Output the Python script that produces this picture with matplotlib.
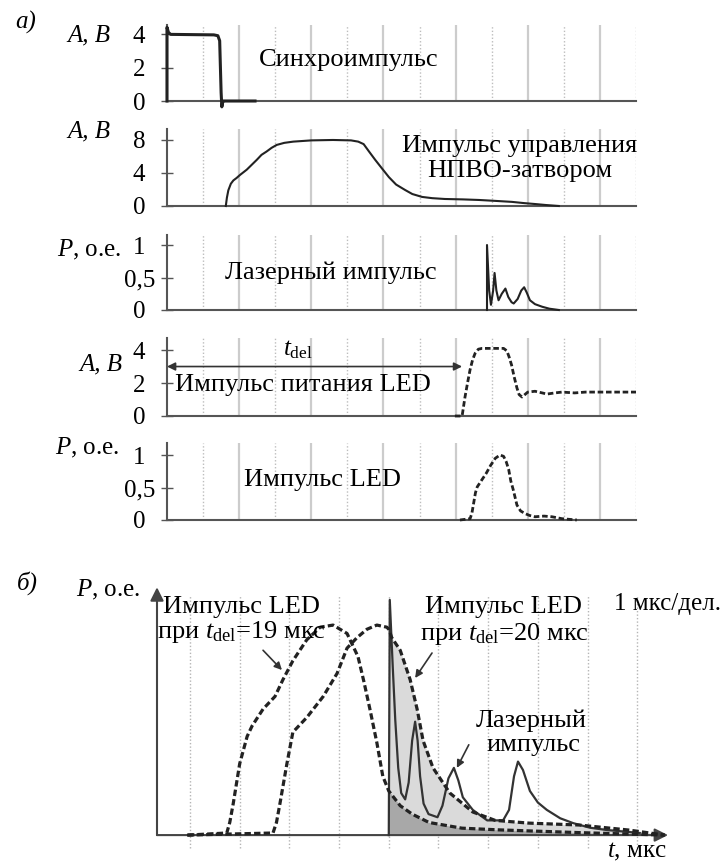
import numpy as np
import matplotlib
matplotlib.use('Agg')
import matplotlib.pyplot as plt

plt.rcParams['font.family'] = ['Liberation Serif', 'DejaVu Serif']
plt.rcParams['mathtext.fontset'] = 'custom'
plt.rcParams['mathtext.rm'] = 'Liberation Serif'
plt.rcParams['mathtext.it'] = 'Liberation Serif:italic'
plt.rcParams['font.size'] = 18

# ---- panel a) data, x in half-divisions ----
sync_x = [0, 0, 0.04, 0.1, 1.3, 1.41, 1.46, 1.5, 1.52, 1.55, 1.6, 2.44]
sync_y = [0, 4.4, 4.1, 3.98, 3.95, 3.9, 3.6, 0.5, -0.35, 0.0, 0.0, 0.0]

gate_x = [1.63, 1.66, 1.7, 1.77, 1.84, 1.93, 2.02, 2.21, 2.35, 2.49, 2.62, 2.76, 2.9, 3.04, 3.25,
          3.5, 4.0, 4.6, 5.1, 5.3, 5.45, 5.6, 5.77, 5.95, 6.15, 6.35, 6.6, 6.8, 7.07, 7.35, 7.7,
          8.2, 8.65, 9.1, 9.56, 9.9, 10.2, 10.5, 10.86]
gate_y = [0, 1.0, 1.9, 2.7, 3.1, 3.4, 3.75, 4.4, 5.0, 5.6, 6.2, 6.6, 7.05, 7.4, 7.65,
          7.8, 7.95, 8.0, 7.95, 7.8, 7.5, 6.6, 5.6, 4.6, 3.5, 2.6, 1.94, 1.45, 1.1, 0.95, 0.85,
          0.8, 0.73, 0.62, 0.5, 0.35, 0.24, 0.12, 0.0]

laser_x = [8.87, 8.87, 8.93, 8.98, 9.04, 9.08, 9.13, 9.19, 9.28, 9.38, 9.46, 9.55, 9.61, 9.72,
           9.82, 9.9, 9.97, 10.06, 10.2, 10.4, 10.6, 10.86]
laser_y = [0, 1.0, 0.3, 0.08, 0.3, 0.57, 0.3, 0.15, 0.25, 0.33, 0.2, 0.12, 0.1, 0.17,
           0.3, 0.35, 0.27, 0.15, 0.09, 0.05, 0.02, 0.0]

drive_x = [7.98, 8.18, 8.26, 8.33, 8.4, 8.47, 8.54, 8.63, 8.73, 9.0, 9.33, 9.42, 9.48, 9.55,
           9.62, 9.7, 9.76, 9.84, 9.92, 10.0, 10.2, 10.4, 10.53, 10.75, 10.95, 11.3, 11.6,
           12.0, 13.0]
drive_y = [0, 0, 1.15, 2.0, 2.8, 3.4, 3.8, 4.05, 4.1, 4.1, 4.1, 3.95, 3.6, 3.1,
           2.4, 1.7, 1.3, 1.15, 1.3, 1.45, 1.5, 1.4, 1.33, 1.4, 1.45, 1.4, 1.45,
           1.45, 1.45]

led_x = [8.12, 8.4, 8.45, 8.5, 8.55, 8.6, 8.73, 8.85, 8.97, 9.1, 9.23, 9.33, 9.4, 9.47, 9.53,
         9.6, 9.7, 9.8, 9.92, 10.05, 10.2, 10.45, 10.67, 10.95, 11.36]
led_y = [0, 0.02, 0.1, 0.26, 0.42, 0.51, 0.62, 0.72, 0.84, 0.95, 1.0, 0.98, 0.9, 0.78, 0.6,
         0.46, 0.23, 0.14, 0.1, 0.07, 0.05, 0.06, 0.05, 0.02, 0.0]

tdel_end = 8.18

# ---- panel б) data, t in microseconds ----
t19 = [0.96, 1.74, 1.8, 1.87, 2.0, 2.15, 2.25, 2.47, 2.71, 2.87, 3.07, 3.35, 3.62, 3.88, 4.16,
       4.38, 4.5, 4.62, 4.76, 4.88, 5.0, 5.23, 5.47, 5.81, 6.47, 7.2, 7.82, 8.8, 9.83, 10.55]
p19 = [0.0, 0.01, 0.06, 0.15, 0.34, 0.47, 0.52, 0.6, 0.66, 0.74, 0.83, 0.93, 0.99, 1.0, 0.96,
       0.85, 0.73, 0.6, 0.44, 0.28, 0.21, 0.14, 0.1, 0.06, 0.033, 0.025, 0.02, 0.012, 0.005, 0.0]

t20 = [0.94, 2.67, 2.74, 2.81, 2.95, 3.07, 3.35, 3.68, 3.96, 4.16, 4.36, 4.56, 4.76, 4.96, 5.0,
       5.06, 5.23, 5.43, 5.57, 5.69, 5.89, 6.23, 6.69, 7.14, 7.82, 8.83, 9.83, 10.55]
p20 = [0.0, 0.01, 0.06, 0.15, 0.34, 0.49, 0.56, 0.66, 0.77, 0.89, 0.94, 0.98, 1.0, 0.99, 0.98,
       0.94, 0.88, 0.74, 0.6, 0.45, 0.32, 0.2, 0.11, 0.07, 0.057, 0.048, 0.024, 0.0]

tl = [5.0, 5.02, 5.08, 5.13, 5.19, 5.25, 5.33, 5.4, 5.47, 5.53, 5.58, 5.63, 5.7, 5.8, 5.98,
      6.08, 6.2, 6.31, 6.4, 6.49, 6.69, 6.98, 7.3, 7.42, 7.52, 7.6, 7.7, 7.84, 8.0, 8.18,
      8.45, 8.71, 9.05, 9.39, 10.05]
pl = [0.0, 1.12, 0.8, 0.55, 0.32, 0.2, 0.17, 0.25, 0.45, 0.54, 0.45, 0.28, 0.15, 0.1, 0.085,
      0.14, 0.27, 0.32, 0.26, 0.18, 0.12, 0.07, 0.07, 0.12, 0.28, 0.35, 0.31, 0.21, 0.155, 0.12,
      0.08, 0.057, 0.035, 0.024, 0.01]
laser_start = 5.0

W, H = 724, 866
ink = '#222222'
axis_col = '#555555'
big = 19


def box(x0, y0, x1, y1):
    return [x0 / W, 1 - y1 / H, (x1 - x0) / W, (y1 - y0) / H]


fig = plt.figure(figsize=(W / 100, H / 100), dpi=100)

# top px, bottom px, ymax, x, y, ticks, ticklabels, line kind
rows = [
    (25, 101, 4.54, sync_x, sync_y, [0, 2, 4], ['0', '2', '4'], 'sync'),
    (129, 206, 9.33, gate_x, gate_y, [0, 4, 8], ['0', '4', '8'], 'solid'),
    (235, 310, 1.154, laser_x, laser_y, [0, 0.5, 1], ['0', '0,5', '1'], 'solid'),
    (338, 416, 4.73, drive_x, drive_y, [0, 2, 4], ['0', '2', '4'], 'dash'),
    (443, 520, 1.185, led_x, led_y, [0, 0.5, 1], ['0', '0,5', '1'], 'dash'),
]

axes = []
for top, bot, ymax, xs, ys, ticks, tlabels, kind in rows:
    ax = fig.add_axes(box(167, top, 636, bot))
    ax.set_xlim(0, 13)
    ax.set_ylim(0, ymax)
    for k in range(1, 14):
        if k % 2 == 0:
            ax.axvline(k, color='#cccccc', lw=1.6, zorder=0)
        else:
            ax.axvline(k, color='#bdbdbd', lw=1.0, ls=(0, (1, 1.5)), zorder=0)
    if kind == 'sync':
        ax.plot(xs, ys, color=ink, lw=2.2, clip_on=False, zorder=3)
    elif kind == 'solid':
        ax.plot(xs, ys, color=ink, lw=1.5, clip_on=False, zorder=3)
    else:
        ax.plot(xs, ys, color=ink, lw=2.0, ls=(0, (2, 1)), clip_on=False, zorder=3)
    ax.spines[['top', 'right']].set_visible(False)
    for s in ['left', 'bottom']:
        ax.spines[s].set_color(axis_col)
        ax.spines[s].set_linewidth(1.5)
    ax.set_xticks([])
    ax.set_yticks(ticks)
    ax.set_yticklabels(tlabels)
    ax.tick_params(axis='y', direction='inout', length=9, width=1, color=axis_col,
                   pad=15.5, labelsize=18)
    for lab in ax.get_yticklabels():
        lab.set_horizontalalignment('center')
    axes.append(ax)

# t_del arrow
axes[3].annotate('', xy=(tdel_end, 3.0), xytext=(0, 3.0),
                 arrowprops=dict(arrowstyle='<|-|>', color='#333333', lw=1.2,
                                 mutation_scale=12, shrinkA=0, shrinkB=0))


def ftext(x, y, s, **kw):
    fig.text(x / W, 1 - y / H, s, **kw)


ftext(15, 22, 'а)', style='italic', ha='left', va='center')
ftext(110, 35, 'A, B', style='italic', ha='right', va='center')
ftext(110, 131, 'A, B', style='italic', ha='right', va='center')
ftext(121, 250, r'$P$, о.е.', ha='right', va='center')
ftext(122, 364, 'A, B', style='italic', ha='right', va='center')
ftext(119, 448, r'$P$, о.е.', ha='right', va='center')

ftext(349, 60, 'Синхроимпульс', ha='center', va='center', fontsize=big)
ftext(520, 146, 'Импульс управления', ha='center', va='center', fontsize=big)
ftext(520, 171, 'НПВО-затвором', ha='center', va='center', fontsize=big)
ftext(331, 273, 'Лазерный импульс', ha='center', va='center', fontsize=big)
ftext(298, 350, r'$t_{\mathrm{del}}$', ha='center', va='center')
ftext(303, 385, 'Импульс питания LED', ha='center', va='center', fontsize=big)
ftext(322, 480, 'Импульс LED', ha='center', va='center', fontsize=big)

# ---- panel б) ----
ftext(17, 583, 'б)', style='italic', ha='left', va='center')

axb = fig.add_axes(box(157, 590, 680, 850))
axb.set_xlim(0.336, 10.86)
axb.set_ylim(-0.071, 1.167)
axb.axis('off')
for k in range(1, 11):
    axb.plot([k, k], [-0.062, 1.14], color='#b5b5b5', lw=1.0, ls=(0, (1, 1.5)), zorder=0)

t19a, p19a = np.array(t19), np.array(p19)
t20a, p20a = np.array(t20), np.array(p20)
m19 = t19a >= laser_start
m20 = t20a >= laser_start
axb.fill_between(t20a[m20], p20a[m20], color='#dadada', lw=0, zorder=1)
axb.fill_between(t19a[m19], p19a[m19], color='#a8a8a8', lw=0, zorder=2)
axb.plot(tl, pl, color='#333333', lw=1.6, zorder=4)
axb.plot(t19, p19, color=ink, lw=2.3, ls=(0, (2, 1)), zorder=5)
axb.plot(t20, p20, color=ink, lw=2.3, ls=(0, (2, 1)), zorder=5)

axb.annotate('', xy=(10.62, 0), xytext=(0.336, 0), annotation_clip=False,
             arrowprops=dict(arrowstyle='-|>', color='#444444', lw=1.5,
                             mutation_scale=20, shrinkA=0, shrinkB=0))
axb.annotate('', xy=(0.336, 1.18), xytext=(0.336, 0), annotation_clip=False,
             arrowprops=dict(arrowstyle='-|>', color='#444444', lw=1.5,
                             mutation_scale=20, shrinkA=0, shrinkB=0))

arrow_kw = dict(arrowstyle='-|>', color='#333333', lw=1.2, mutation_scale=11,
                shrinkA=0, shrinkB=0)
axb.annotate('', xy=(2.85, 0.786), xytext=(2.47, 0.88), arrowprops=arrow_kw)
axb.annotate('', xy=(5.53, 0.748), xytext=(5.87, 0.867), arrowprops=arrow_kw)
axb.annotate('', xy=(6.37, 0.32), xytext=(6.61, 0.43), arrowprops=arrow_kw)

ftext(140, 590, r'$P$, о.е.', ha='right', va='center')
ftext(241, 607, 'Импульс LED', ha='center', va='center', fontsize=big)
ftext(241, 632, r'при $t_{\mathrm{del}}$=19 мкс', ha='center', va='center', fontsize=big)
ftext(503, 607, 'Импульс LED', ha='center', va='center', fontsize=big)
ftext(504, 634, r'при $t_{\mathrm{del}}$=20 мкс', ha='center', va='center', fontsize=big)
ftext(531, 721, 'Лазерный', ha='center', va='center', fontsize=big)
ftext(533, 745, 'импульс', ha='center', va='center', fontsize=big)
ftext(614, 604, '1 мкс/дел.', ha='left', va='center')
ftext(667, 852, r'$t$, мкс', ha='right', va='center')

fig.savefig('out.png', dpi=100)
